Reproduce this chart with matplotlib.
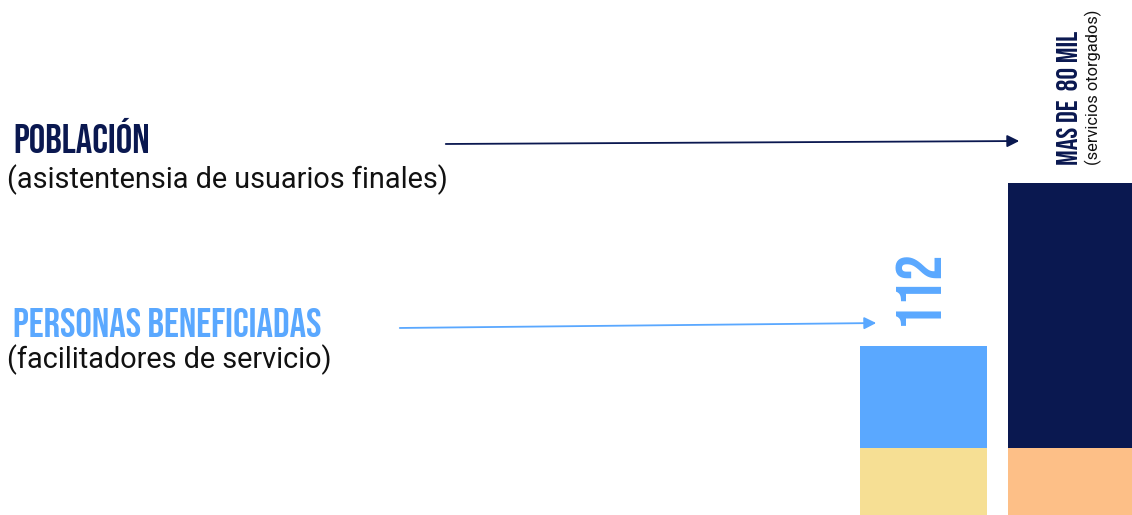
import matplotlib
matplotlib.use("Agg")
import matplotlib.pyplot as plt

# datos del grafico
categorias = ["Personas beneficiadas", "Población"]
base = [67, 67]          # segmento inferior
altura = [102, 265]      # segmento superior
colores_base = ["#F6DF94", "#FDBF87"]
colores_top = ["#5AA8FF", "#0A1850"]
etiquetas_valor = ["112", "MAS DE  80 MIL"]

AZUL = "#5AA8FF"
MARINO = "#0A1850"
COND = ["Bebas Neue", "DejaVu Sans"]

fig = plt.figure(figsize=(11.32, 5.15), dpi=100)
ax = fig.add_axes([0, 0, 1, 1])
ax.set_xlim(0, 1132)
ax.set_ylim(0, 515)
ax.axis("off")

xs = [923.5, 1071.5]
ax.bar(xs, base, width=127, color=colores_base)
ax.bar(xs, altura, bottom=base, width=127, color=colores_top)

# titulos de la izquierda
ax.text(13, 362, "POBLACIÓN", color=MARINO, fontsize=29.5, family=COND,
        va="baseline")
ax.text(7, 327, "(asistentensia de usuarios finales)", color="#111111",
        fontsize=20.8, family="Roboto", va="baseline")
ax.text(13, 178, "PERSONAS BENEFICIADAS", color=AZUL, fontsize=29.5,
        family=COND, va="baseline")
ax.text(7, 147, "(facilitadores de servicio)", color="#111111",
        fontsize=20.8, family="Roboto", va="baseline")

# flechas
ax.annotate("", xy=(1022, 374), xytext=(443, 371),
            arrowprops=dict(arrowstyle="-|>", color=MARINO, lw=1.3,
                            mutation_scale=18))
ax.annotate("", xy=(879, 192), xytext=(397, 187),
            arrowprops=dict(arrowstyle="-|>", color=AZUL, lw=1.3,
                            mutation_scale=18))

# etiquetas de valor rotadas
tope = [b + a for b, a in zip(base, altura)]
ax.text(xs[0] - 9, tope[0] + 21, etiquetas_valor[0], color=AZUL, fontsize=46,
        family=COND, rotation=90, ha="center", va="bottom")
ax.text(1067, 350, etiquetas_valor[1], color=MARINO, fontsize=21,
        family=COND, rotation=90, ha="center", va="bottom")
ax.text(1093, 350, "(servicios otorgados)", color="#111111", fontsize=11.8,
        family="Roboto", rotation=90, ha="center", va="bottom")

fig.savefig("out.png", dpi=100)
